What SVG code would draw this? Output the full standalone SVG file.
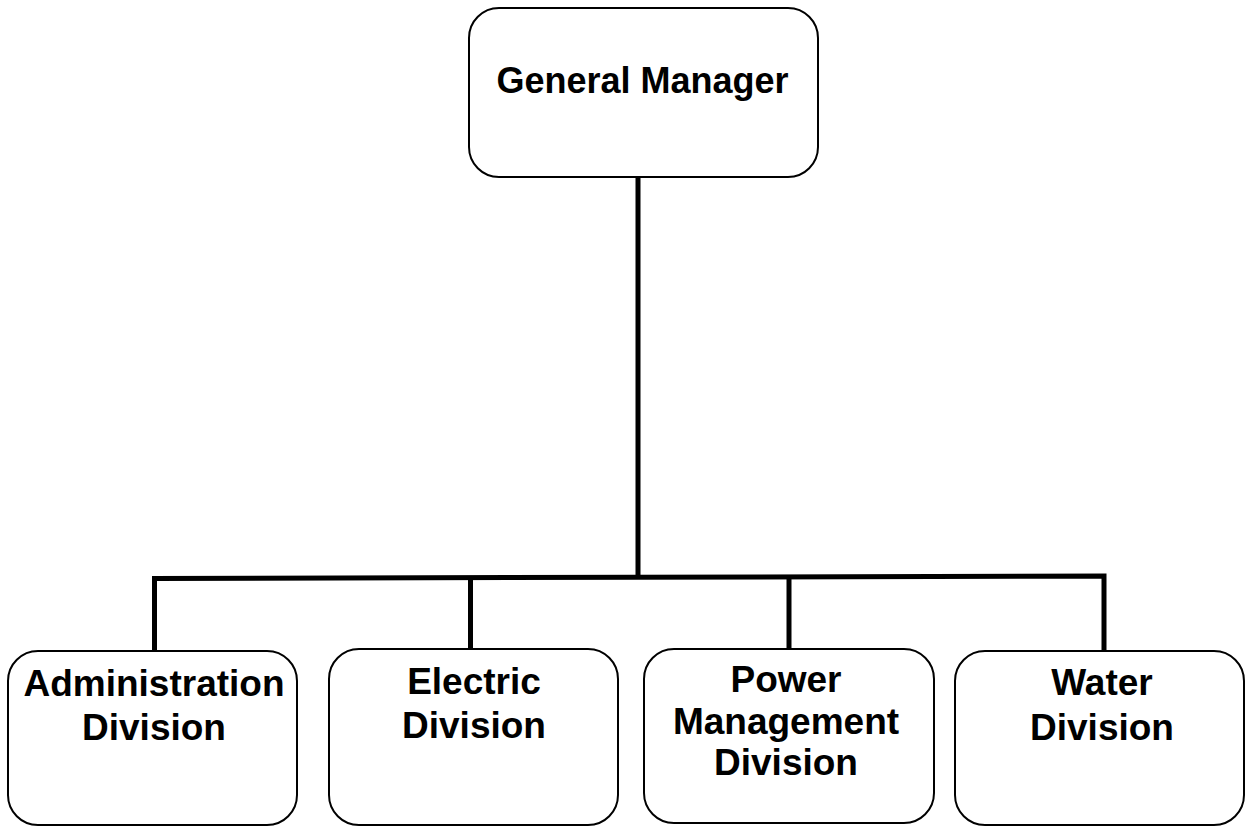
<svg xmlns="http://www.w3.org/2000/svg" width="1248" height="827" viewBox="0 0 1248 827">
<style>
.box{fill:#fff;stroke:#000;stroke-width:2}
.lbl{font-family:"Liberation Sans",Arial,sans-serif;font-weight:bold;font-size:37px;fill:#000;text-anchor:middle}
.conn{fill:none;stroke:#000;stroke-width:5;stroke-linejoin:miter}
</style>
<rect width="1248" height="827" fill="#fff"/>
<g id="connectors">
<path class="conn" d="M638,177 V577"/>
<path class="conn" d="M154.5,651 V578.5 L1104,576 V651"/>
<path class="conn" d="M470.5,649 V578"/>
<path class="conn" d="M789,649 V577"/>
</g>
<g id="general-manager">
<rect class="box" x="469" y="8" width="349" height="169" rx="30" ry="30"/>
<text class="lbl" x="642.5" y="93" style="font-size:36px">General Manager</text>
</g>
<g id="administration-division">
<rect class="box" x="8" y="651" width="289" height="174" rx="30" ry="30"/>
<text class="lbl" x="154" y="696">Administration</text>
<text class="lbl" x="154" y="740">Division</text>
</g>
<g id="electric-division">
<rect class="box" x="329" y="649" width="289" height="176" rx="30" ry="30"/>
<text class="lbl" x="474" y="694">Electric</text>
<text class="lbl" x="474" y="738">Division</text>
</g>
<g id="power-management-division">
<rect class="box" x="644" y="649" width="290" height="174" rx="30" ry="30"/>
<text class="lbl" x="786" y="692">Power</text>
<text class="lbl" x="786" y="734">Management</text>
<text class="lbl" x="786" y="775">Division</text>
</g>
<g id="water-division">
<rect class="box" x="955" y="651" width="289" height="174" rx="30" ry="30"/>
<text class="lbl" x="1102" y="695">Water</text>
<text class="lbl" x="1102" y="740">Division</text>
</g>
</svg>
